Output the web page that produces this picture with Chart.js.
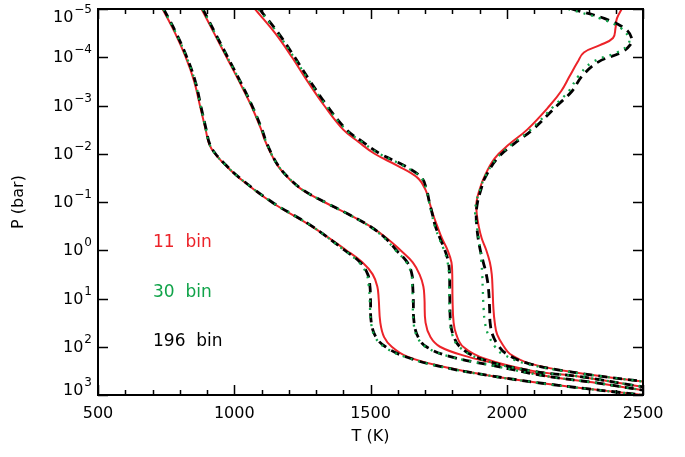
<!DOCTYPE html>
<html>
<head>
<meta charset="utf-8">
<script src="https://cdn.jsdelivr.net/npm/chart.js@4"></script>
<style>
  body { margin: 0; background: #fff; }
  canvas { display: block; }
</style>
</head>
<body>
<canvas id="chart" width="685" height="457"></canvas>
<script>
// log10 da pressão (bar) para cada perfil
const logP1 = [-5, -4.5, -4, -3.5, -3, -2.5, -2.2, -2, -1.75, -1.5, -1, -0.5, 0, 0.25, 0.5, 0.75, 1, 1.5, 1.8, 2, 2.2, 2.4, 2.6, 2.8, 3];
const red1   = [737, 783, 822, 853, 874, 895, 908, 929, 970, 1018, 1136, 1283, 1411, 1470, 1508, 1525, 1530, 1536, 1550, 1578, 1633, 1755, 1939, 2190, 2500];
const green1 = [740, 786, 825, 856, 876, 896, 909, 930, 971, 1019, 1137, 1284, 1404, 1458, 1486, 1494, 1497, 1502, 1517, 1550, 1622, 1748, 1937, 2188, 2500];
const black1 = [741, 787, 826, 857, 877, 897, 910, 931, 972, 1020, 1138, 1285, 1405, 1462, 1490, 1498, 1500, 1503, 1520, 1555, 1625, 1750, 1939, 2190, 2500];

const logP2 = [-5, -4.5, -4, -3.5, -3, -2.5, -2.3, -2, -1.75, -1.5, -1.25, -1, -0.75, -0.5, -0.25, 0, 0.25, 0.5, 0.75, 1, 1.5, 1.8, 2, 2.2, 2.4, 2.6, 2.75, 2.9, 3];
const red2   = [880, 926, 972, 1018, 1062, 1099, 1111, 1135, 1160, 1198, 1250, 1330, 1418, 1498, 1560, 1610, 1655, 1680, 1694, 1698, 1702, 1720, 1755, 1853, 2000, 2140, 2330, 2500, 2620];
const green2 = [884, 929, 975, 1021, 1064, 1101, 1113, 1136, 1161, 1199, 1251, 1331, 1417, 1495, 1552, 1592, 1632, 1650, 1653, 1655, 1658, 1672, 1702, 1788, 1958, 2135, 2330, 2500, 2620];
const black2 = [885, 930, 976, 1022, 1065, 1102, 1114, 1137, 1162, 1200, 1252, 1332, 1418, 1497, 1555, 1595, 1635, 1652, 1655, 1657, 1660, 1675, 1705, 1790, 1960, 2135, 2330, 2500, 2620];

const logP3 = [-5, -4.5, -4, -3.5, -3, -2.5, -2.25, -2, -1.75, -1.5, -1.25, -1, -0.75, -0.5, -0.25, 0, 0.25, 0.5, 1, 1.5, 1.75, 2, 2.25, 2.5, 2.62, 2.83, 3];
const red3   = [1076, 1150, 1212, 1269, 1330, 1400, 1455, 1515, 1600, 1673, 1702, 1716, 1729, 1745, 1762, 1783, 1797, 1800, 1801, 1805, 1815, 1840, 1920, 2095, 2269, 2500, 2700];
const green3 = [1089, 1159, 1219, 1276, 1337, 1409, 1467, 1532, 1622, 1686, 1705, 1715, 1725, 1736, 1752, 1770, 1783, 1788, 1789, 1792, 1800, 1825, 1902, 2088, 2269, 2500, 2700];
const black3 = [1092, 1162, 1222, 1279, 1340, 1412, 1470, 1535, 1625, 1688, 1706, 1716, 1727, 1738, 1755, 1773, 1786, 1790, 1791, 1794, 1803, 1828, 1905, 2090, 2269, 2500, 2700];

const logP4 = [-5, -4.8, -4.6, -4.4, -4.25, -4.1, -3.9, -3.6, -3.3, -3, -2.5, -2.2, -1.9, -1.5, -1.25, -1, -0.75, -0.5, -0.25, 0, 0.25, 0.5, 0.8, 1.2, 1.5, 1.75, 2, 2.15, 2.35, 2.55, 2.72, 3];
const red4   = [2422, 2404, 2399, 2390, 2342, 2283, 2260, 2230, 2200, 2158, 2075, 2010, 1955, 1916, 1900, 1889, 1890, 1897, 1908, 1925, 1938, 1945, 1948, 1951, 1956, 1965, 1990, 2012, 2086, 2269, 2500, 2880];
const green4 = [2225, 2345, 2420, 2448, 2444, 2405, 2315, 2262, 2228, 2175, 2088, 2020, 1962, 1918, 1902, 1888, 1884, 1890, 1897, 1903, 1907, 1910, 1912, 1915, 1920, 1932, 1957, 1985, 2070, 2265, 2500, 2880];
const black4 = [2238, 2360, 2432, 2458, 2452, 2420, 2335, 2275, 2240, 2185, 2095, 2025, 1965, 1920, 1905, 1893, 1888, 1890, 1895, 1903, 1914, 1925, 1933, 1937, 1939, 1948, 1972, 2000, 2080, 2269, 2500, 2880];

// eixos
const xMajorTicks = [500, 1000, 1500, 2000, 2500];
const xMinorStep = 100;
const yTickExponents = [-5, -4, -3, -2, -1, 0, 1, 2, 3];

// legenda em texto dentro do gráfico
const legendLabels = ['11 bin', '30 bin', '196 bin'];
const legendColors = ['#ec2329', '#10a349', '#000000'];

const RED = '#ec2329';
const GREEN = '#10a349';
const BLACK = '#000000';
const FONT = '"DejaVu Sans", sans-serif';

function toPoints(temps, logs) {
  return temps.map((t, i) => ({ x: t, y: Math.pow(10, logs[i]) }));
}

function lineSet(temps, logs, kind) {
  const base = { data: toPoints(temps, logs), showLine: true, pointRadius: 0, tension: 0.4, fill: false };
  if (kind === 'red') return Object.assign(base, { borderColor: RED, borderWidth: 2 });
  if (kind === 'green') return Object.assign(base, { borderColor: GREEN, borderWidth: 2.3, borderDash: [2, 6] });
  return Object.assign(base, { borderColor: BLACK, borderWidth: 2.8, borderDash: [9, 6] });
}

// verde por cima, depois preto, vermelho por baixo
const datasets = [];
[[green1, logP1], [green2, logP2], [green3, logP3], [green4, logP4]].forEach(s => datasets.push(lineSet(s[0], s[1], 'green')));
[[black1, logP1], [black2, logP2], [black3, logP3], [black4, logP4]].forEach(s => datasets.push(lineSet(s[0], s[1], 'black')));
[[red1, logP1], [red2, logP2], [red3, logP3], [red4, logP4]].forEach(s => datasets.push(lineSet(s[0], s[1], 'red')));

const axesPlugin = {
  id: 'idlAxes',
  afterDraw(chart) {
    const ctx = chart.ctx;
    const a = chart.chartArea;
    const xs = chart.scales.x;
    const ys = chart.scales.y;
    ctx.save();
    ctx.strokeStyle = '#000';
    ctx.fillStyle = '#000';

    // ticks do eixo x (para dentro, em baixo e em cima)
    ctx.lineWidth = 1.5;
    for (let v = xs.min; v <= xs.max; v += xMinorStep) {
      const px = Math.round(xs.getPixelForValue(v)) + 0.5;
      const len = xMajorTicks.includes(v) ? 10 : 5;
      ctx.beginPath();
      ctx.moveTo(px, a.bottom); ctx.lineTo(px, a.bottom - len);
      ctx.moveTo(px, a.top); ctx.lineTo(px, a.top + len);
      ctx.stroke();
    }
    // ticks do eixo y
    yTickExponents.forEach(e => {
      const py = Math.round(ys.getPixelForValue(Math.pow(10, e))) + 0.5;
      ctx.beginPath();
      ctx.moveTo(a.left, py); ctx.lineTo(a.left + 10, py);
      ctx.moveTo(a.right, py); ctx.lineTo(a.right - 10, py);
      ctx.stroke();
    });

    // moldura
    ctx.lineWidth = 2;
    ctx.strokeRect(a.left, a.top, a.right - a.left, a.bottom - a.top);

    // rótulos do eixo x
    ctx.font = '16px ' + FONT;
    ctx.textAlign = 'center';
    ctx.textBaseline = 'middle';
    xMajorTicks.forEach(v => {
      ctx.fillText(String(v), xs.getPixelForValue(v), a.bottom + 19);
    });

    // rótulos do eixo y: 10 com expoente
    yTickExponents.forEach(e => {
      let py = ys.getPixelForValue(Math.pow(10, e));
      py = Math.max(py, a.top + 8);
      py = Math.min(py, a.bottom - 5);
      const expText = e < 0 ? '\u2212' + Math.abs(e) : String(e);
      ctx.font = '12px ' + FONT;
      const ew = ctx.measureText(expText).width;
      ctx.textAlign = 'right';
      ctx.fillText(expText, a.left - 6, py - 7);
      ctx.font = '16px ' + FONT;
      ctx.fillText('10', a.left - 7 - ew, py + 1);
    });

    // títulos dos eixos
    ctx.font = '16px ' + FONT;
    ctx.textAlign = 'center';
    ctx.fillText('T (K)', (a.left + a.right) / 2, a.bottom + 42);
    ctx.save();
    ctx.translate(19, (a.top + a.bottom) / 2);
    ctx.rotate(-Math.PI / 2);
    ctx.fillText('P (bar)', 0, 0);
    ctx.restore();

    // legenda
    ctx.font = '17px ' + FONT;
    ctx.textAlign = 'left';
    const lx = xs.getPixelForValue(702);
    const lyValues = [0.71, 7.6, 80];
    legendLabels.forEach((txt, i) => {
      ctx.fillStyle = legendColors[i];
      ctx.fillText(txt.replace(' ', '  '), lx, ys.getPixelForValue(lyValues[i]));
    });
    ctx.restore();
  }
};

new Chart(document.getElementById('chart').getContext('2d'), {
  type: 'scatter',
  data: { datasets: datasets },
  options: {
    responsive: false,
    animation: false,
    layout: { padding: { left: 98, top: 9, right: 42, bottom: 62 } },
    plugins: { legend: { display: false }, tooltip: { enabled: false } },
    scales: {
      x: { type: 'linear', min: 500, max: 2500, display: false },
      y: { type: 'logarithmic', min: 1e-5, max: 1e3, reverse: true, display: false }
    }
  },
  plugins: [axesPlugin]
});
</script>
</body>
</html>
